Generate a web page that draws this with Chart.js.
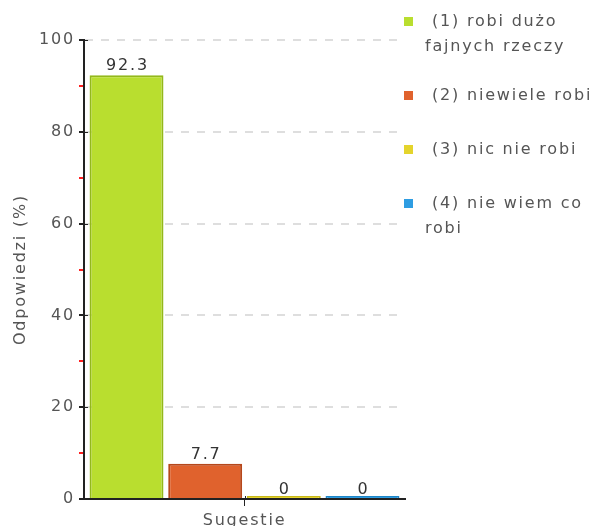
<!DOCTYPE html>
<html lang="pl">
<head>
<meta charset="UTF-8"/>
<title>Sugestie</title>
<script src="https://cdn.jsdelivr.net/npm/chart.js"></script>
<style>
	body { margin: 0; background: #fff; }
	#chart { display: block; }
</style>
</head>
<body>
<canvas id="chart" width="596" height="526"></canvas>
<script>
	const categories = ["Sugestie"];
	const answers = ["(1) robi dużo fajnych rzeczy", "(2) niewiele robi", "(3) nic nie robi", "(4) nie wiem co robi"];
	const legendLines = [["(1) robi dużo", "fajnych rzeczy"], ["(2) niewiele robi"], ["(3) nic nie robi"], ["(4) nie wiem co", "robi"]];
	const percents = [92.3, 7.7, 0, 0];
	const yLabels = [0, 20, 40, 60, 80, 100];

	const fills = ["#b9de2f", "#e0622d", "#e4d42c", "#2e9de2"];
	const edges = ["#93b81b", "#b6471b", "#c8b81a", "#1e85c6"];

	const FONT = "DejaVu Sans";
	const SIZE = 16;
	const SPACING = "1.8px";

	// szerszy odstęp liter jak w oryginale
	const spacingPlugin = {
		id: "spacing",
		beforeUpdate(chart) { chart.ctx.letterSpacing = SPACING; },
		beforeDraw(chart) { chart.ctx.letterSpacing = SPACING; }
	};

	const valueLabels = {
		id: "valueLabels",
		afterDatasetsDraw(chart) {
			const ctx = chart.ctx;
			const yScale = chart.scales.y;
			ctx.save();
			ctx.font = SIZE + "px '" + FONT + "'";
			ctx.fillStyle = "#333";
			ctx.textAlign = "center";
			ctx.textBaseline = "alphabetic";
			chart.data.datasets.forEach((ds, i) => {
				const bar = chart.getDatasetMeta(i).data[0];
				const py = yScale.getPixelForValue(ds.data[0]);
				ctx.fillText(String(ds.data[0]), bar.x + 1, py - 5);
			});
			ctx.restore();
		}
	};

	const crossTicks = {
		id: "crossTicks",
		afterDraw(chart) {
			const ctx = chart.ctx;
			const { x, y } = chart.scales;
			ctx.save();
			ctx.strokeStyle = "#222";
			ctx.lineWidth = 1;
			y.ticks.forEach((t, i) => {
				if (!yLabels.includes(t.value)) return;
				const py = Math.round(y.getPixelForTick(i)) + 0.5;
				ctx.beginPath();
				ctx.moveTo(y.right, py);
				ctx.lineTo(y.right + 4, py);
				ctx.stroke();
			});
			const px = Math.round(x.getPixelForValue(0)) + 0.5;
			ctx.beginPath();
			ctx.moveTo(px, x.top);
			ctx.lineTo(px, x.top - 3);
			ctx.stroke();
			ctx.restore();
		}
	};

	const sideLegend = {
		id: "sideLegend",
		afterDraw(chart) {
			const ctx = chart.ctx;
			const area = chart.chartArea;
			let top = 22;
			ctx.save();
			ctx.font = SIZE + "px '" + FONT + "'";
			ctx.textBaseline = "middle";
			ctx.textAlign = "left";
			chart.data.datasets.forEach((ds, i) => {
				ctx.fillStyle = ds.backgroundColor;
				ctx.fillRect(area.right - 1, top - 5, 9, 9);
				ctx.fillStyle = "#555";
				legendLines[i].forEach((line, j) => {
					ctx.fillText(line, area.right + 20 + (j === 0 ? 7 : 0), top + j * 25);
				});
				top += (legendLines[i].length - 1) * 20 + 54;
			});
			ctx.restore();
		}
	};

	const ctx = document.getElementById("chart").getContext("2d");
	const chart = new Chart(ctx, {
		type: "bar",
		data: {
			labels: categories,
			datasets: answers.map((name, i) => ({
				label: name,
				data: [percents[i]],
				backgroundColor: fills[i],
				borderColor: edges[i],
				borderWidth: 2,
				minBarLength: 3,
				categoryPercentage: 0.98,
				barPercentage: 0.94
			}))
		},
		options: {
			responsive: false,
			animation: false,
			layout: { padding: { top: 40, right: 191, bottom: 0, left: 0 } },
			plugins: {
				legend: { display: false },
				tooltip: { enabled: false }
			},
			scales: {
				x: {
					afterFit(scale) { scale.height = 27; },
					grid: {
						offset: false,
						drawOnChartArea: false,
						tickLength: 7,
						tickColor: "#222"
					},
					border: { color: "#222", width: 2 },
					ticks: {
						padding: 5,
						color: "#555",
						font: { family: FONT, size: SIZE }
					}
				},
				y: {
					min: 0,
					max: 100,
					afterFit(scale) { scale.width = 84; },
					ticks: {
						stepSize: 10,
						autoSkip: false,
						padding: 4,
						color: "#555",
						font: { family: FONT, size: SIZE }
						,
						callback: v => (yLabels.includes(v) ? String(v) : "")
					},
					grid: {
						tickLength: 5,
						lineWidth: 2,
						color: c => (yLabels.includes(c.tick.value) && c.tick.value !== 0 ? "#dedede" : "transparent"),
						tickColor: c => (yLabels.includes(c.tick.value) ? "#222" : "#ff2020")
					},
					border: { color: "#222", width: 2, dash: [8, 8] },
					title: {
						display: true,
						text: "Odpowiedzi (%)",
						color: "#555",
						padding: { top: 11, bottom: 0 },
						font: { family: FONT, size: SIZE }
					}
				}
			}
		},
		plugins: [spacingPlugin, valueLabels, crossTicks, sideLegend]
	});
</script>
</body>
</html>
